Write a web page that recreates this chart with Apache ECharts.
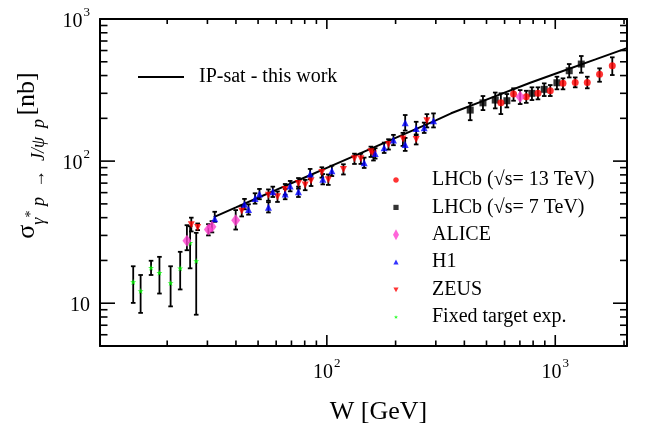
<!DOCTYPE html>
<html><head><meta charset="utf-8">
<script src="https://cdn.jsdelivr.net/npm/echarts@6/dist/echarts.min.js"></script>
<style>html,body{margin:0;padding:0;background:#fff}#c{width:648px;height:430px}</style>
</head><body><div id="c"></div>
<script>
const FONT = '"Liberation Serif", "Times New Roman", "DejaVu Serif", serif';
const X_MIN = 10.16, X_MAX = 2061, Y_MIN = 5, Y_MAX = 1000;

// ---- axis ticks & labels ----
const xMajorTicks = [100, 1000];
const xMinorTicks = [20, 30, 40, 50, 60, 70, 80, 90, 200, 300, 400, 500, 600, 700, 800, 900, 2000];
const yMajorTicks = [10, 100, 1000];
const yMinorTicks = [6, 7, 8, 9, 20, 30, 40, 50, 60, 70, 80, 90, 200, 300, 400, 500, 600, 700, 800, 900];
const xLabelValues = [100, 1000];
const xLabelBase = ['10', '10'];
const xLabelExp = ['2', '3'];
const yLabelValues = [10, 100, 1000];
const yLabelBase = ['10', '10', '10'];
const yLabelExp = ['', '2', '3'];

// ---- IP-sat curve ----
const ipsatW = [32, 40, 50, 60, 80, 100, 150, 200, 300, 350, 500, 777, 1000, 1500, 2100];
const ipsatSigma = [40.4, 47.2, 55.2, 62.7, 76.7, 89.7, 119.1, 145.7, 193.5, 217, 271, 356, 411.6, 519.5, 630.5];

// ---- LHCb sqrt(s)=13 TeV ----
const lhcb13W = [578, 656.7, 746.5, 840, 951, 1081, 1223, 1381, 1563, 1777];
const lhcb13Sigma = [257, 296.5, 283.7, 299.9, 312.6, 352.4, 358, 358, 407.9, 469];
const lhcb13Lo = [214.3, 266, 257, 272, 287, 320, 330.5, 325.3, 361.8, 403.3];
const lhcb13Hi = [299.9, 325.3, 312.6, 330.5, 342.9, 382.3, 388, 392.5, 449.5, 537.5];

// ---- LHCb sqrt(s)=7 TeV ----
const lhcb7W = [424.3, 482.5, 546, 614, 790.6, 894.8, 1017, 1151, 1300];
const lhcb7Sigma = [228.6, 257, 269, 266, 299.9, 320, 355.9, 432.5, 481.9];
const lhcb7Lo = [194, 228.6, 235, 238.8, 269, 287, 320, 388, 418.7];
const lhcb7Hi = [257, 287, 303.7, 296.5, 330.5, 352.4, 392.5, 481.9, 548.9];

// ---- ALICE ----
const aliceW = [24.4, 30.3, 31.4, 39.9, 702];
const aliceSigma = [27.5, 33.0, 34.5, 38.4, 283.7];
const aliceLo = [23.6, 30.0, 31.5, 33.0, 252];
const aliceHi = [35.4, 36.0, 37.8, 45.2, 316];

// ---- H1 ----
const h1W = [32.3, 43.6, 45.4, 48.5, 50.7, 55.5, 58.0, 65.7, 69.1, 75.1, 84.5, 96.0, 105.2, 145.7, 162.8, 178.2, 195.7, 220.3, 220.3, 246.1, 266.8, 293.1];
const h1Sigma = [39.3, 49.8, 45.7, 54.6, 58.6, 47.3, 60.8, 58.6, 66.7, 60.8, 81.0, 74.6, 85.4, 97.3, 113.3, 124.1, 140.7, 186.1, 131.1, 169.9, 171.6, 192.2];
const h1Lo = [37.4, 45.8, 42.0, 50.2, 53.9, 43.5, 55.9, 53.9, 61.3, 55.9, 74.5, 68.6, 78.5, 89.5, 104.2, 114.1, 129.4, 164.0, 118.0, 152.4, 157.8, 172.6];
const h1Hi = [44.0, 54.2, 49.7, 59.4, 63.7, 51.4, 66.1, 63.7, 72.5, 66.1, 88.1, 81.1, 92.8, 105.8, 123.2, 135.0, 153.0, 211.0, 145.6, 189.1, 186.6, 216.6];

// ---- ZEUS ----
const zeusW = [25.5, 27.2, 42.4, 55.5, 60.8, 65.7, 75.1, 80.4, 85.3, 95.1, 101.5, 118.2, 132.1, 140.9, 155.9, 160.0, 186.2, 215.3, 246.1, 274.2];
const zeusSigma = [35.7, 34.1, 44.5, 57.6, 56.1, 63.2, 69.7, 67.8, 72.6, 83.2, 74.0, 87.4, 103.8, 103.8, 116.3, 112.0, 131.1, 142.9, 142.2, 192.2];
const zeusLo = [32.0, 32.7, 40.8, 52.6, 51.6, 58.0, 64.0, 62.4, 66.8, 76.5, 68.0, 80.5, 95.5, 95.5, 107.0, 101.0, 120.6, 128.0, 131.0, 172.6];
const zeusHi = [40.0, 36.4, 48.6, 63.2, 61.2, 69.0, 76.0, 73.8, 79.0, 90.5, 80.5, 95.0, 112.8, 112.8, 126.4, 122.0, 142.5, 158.0, 154.0, 214.0];

// ---- Fixed target experiments ----
const fixedW = [14.2, 15.3, 17.0, 18.5, 20.7, 22.8, 25.2, 26.8];
const fixedSigma = [14.1, 12.2, 17.8, 16.4, 13.9, 17.6, 26.6, 19.8];
const fixedLo = [10.05, 8.55, 15.8, 11.7, 9.5, 12.5, 17.6, 8.3];
const fixedHi = [18.2, 15.8, 19.9, 21.2, 18.2, 23.0, 34.8, 31.3];

// ---------------------------------------------------------------
function pts(w, s) { return w.map((v, i) => [v, s[i]]); }
function errs(w, s, lo, hi) { return w.map((v, i) => [v, s[i], lo[i], hi[i]]); }

function errorBarRender(params, api) {
  const x = api.value(0), lo = api.value(2), hi = api.value(3);
  const pl = api.coord([x, lo]), ph = api.coord([x, hi]);
  const cw = 2.3;
  const st = { stroke: '#000', lineWidth: 1.8 };
  return { type: 'group', children: [
    { type: 'line', shape: { x1: pl[0], y1: pl[1], x2: ph[0], y2: ph[1] }, style: st },
    { type: 'line', shape: { x1: pl[0] - cw, y1: pl[1], x2: pl[0] + cw, y2: pl[1] }, style: st },
    { type: 'line', shape: { x1: ph[0] - cw, y1: ph[1], x2: ph[0] + cw, y2: ph[1] }, style: st }
  ]};
}
function errSeries(data) {
  return { type: 'custom', renderItem: errorBarRender, data: data, encode: { x: 0, y: 1 }, z: 3, silent: true, clip: false };
}
// tick series: dx,dy is direction of the tick into the plot
function tickSeries(data, len, dx, dy) {
  return {
    type: 'custom', silent: true, z: 10, clip: false,
    encode: { x: 0, y: 1 }, data: data,
    renderItem: function (params, api) {
      const p = api.coord([api.value(0), api.value(1)]);
      return { type: 'line', shape: { x1: p[0], y1: p[1], x2: p[0] + dx * len, y2: p[1] + dy * len },
        style: { stroke: '#000', lineWidth: 1.6 } };
    }
  };
}
function powLabel(values, bases, exps) {
  return function (v) {
    for (let i = 0; i < values.length; i++) {
      if (Math.abs(Math.log10(v) - Math.log10(values[i])) < 1e-6) {
        return exps[i] ? '{b|' + bases[i] + '}{s|' + exps[i] + '}' : '{b|' + bases[i] + '}';
      }
    }
    return '';
  };
}
const labelRich = {
  b: { fontFamily: FONT, fontSize: 20, color: '#000', padding: [6, 0, 0, 0] },
  s: { fontFamily: FONT, fontSize: 13, color: '#000', verticalAlign: 'top', padding: [0, 0, 0, 1] }
};

const axisLine = { show: true, onZero: false, lineStyle: { color: '#000', width: 2 } };

const downTri = 'path://M0,0L10,0L5,9Z';
const star = 'path://M5,0L6.2,3.8L10,3.8L7,6.2L8.1,10L5,7.6L1.9,10L3,6.2L0,3.8L3.8,3.8Z';

// legend icons (drawn inside a 12x12 box)
const iconCircle = 'path://M0,0M12,12M6,3.2C7.55,3.2 8.8,4.45 8.8,6C8.8,7.55 7.55,8.8 6,8.8C4.45,8.8 3.2,7.55 3.2,6C3.2,4.45 4.45,3.2 6,3.2Z';
const iconSquare = 'path://M0,0M12,12M3.4,3.4H8.6V8.6H3.4Z';
const iconDiamond = 'path://M0,0M12,12M6,0.5L9,6L6,11.5L3,6Z';
const iconUp = 'path://M0,0M12,12M6,3.4L8.6,8.2L3.4,8.2Z';
const iconDown = 'path://M0,0M12,12M3.4,3.8H8.6L6,8.6Z';
const iconStar = 'path://M0,0M12,12M6,4.2L6.6,5.5L8,5.5L6.9,6.4L7.3,7.8L6,7L4.7,7.8L5.1,6.4L4,5.5L5.4,5.5Z';

const names = ['LHCb (\u221As= 13 TeV)', 'LHCb (\u221As= 7 TeV)', 'ALICE', 'H1', 'ZEUS', 'Fixed target exp.'];
const icons = [iconCircle, iconSquare, iconDiamond, iconUp, iconDown, iconStar];

const option = {
  animation: false,
  backgroundColor: '#fff',
  grid: { left: 100, right: 21, top: 19, bottom: 83, containLabel: false },
  xAxis: [
    { type: 'log', logBase: 10, min: X_MIN, max: X_MAX, position: 'bottom',
      axisLine: axisLine, axisTick: { show: false }, splitLine: { show: false }, minorTick: { show: false },
      axisLabel: { margin: 11, formatter: powLabel(xLabelValues, xLabelBase, xLabelExp), rich: labelRich, showMinLabel: true, showMaxLabel: true, hideOverlap: false },
      name: 'W [GeV]', nameLocation: 'middle', nameGap: 53,
      nameTextStyle: { fontFamily: FONT, fontSize: 26, color: '#000', padding: [0, 0, 0, 30] } },
    { type: 'log', logBase: 10, min: X_MIN, max: X_MAX, position: 'top',
      axisLine: axisLine, axisTick: { show: false }, axisLabel: { show: false }, splitLine: { show: false } }
  ],
  yAxis: [
    { type: 'log', logBase: 10, min: Y_MIN, max: Y_MAX, position: 'left',
      axisLine: axisLine, axisTick: { show: false }, splitLine: { show: false }, minorTick: { show: false },
      axisLabel: { margin: 10, formatter: powLabel(yLabelValues, yLabelBase, yLabelExp), rich: labelRich, showMinLabel: true, showMaxLabel: true, hideOverlap: false },
      name: '{m|\u03C3}{i|\u03B3}{u|*}{i| p  \u2192  J/\u03C8  p} {m|[nb]}',
      nameLocation: 'middle', nameRotate: 90, nameGap: 52,
      nameTextStyle: { color: '#000', padding: [0, 0, 0, 54],
        rich: {
          m: { fontFamily: FONT, fontSize: 26, color: '#000', padding: [0, 0, 8, 0] },
          i: { fontFamily: FONT, fontSize: 18, fontStyle: 'italic', color: '#000', verticalAlign: 'bottom' },
          u: { fontFamily: FONT, fontSize: 14, color: '#000', verticalAlign: 'middle' }
        } } },
    { type: 'log', logBase: 10, min: Y_MIN, max: Y_MAX, position: 'right',
      axisLine: axisLine, axisTick: { show: false }, axisLabel: { show: false }, splitLine: { show: false } }
  ],
  legend: [
    { data: names.map((n, i) => ({ name: n, icon: icons[i] })), orient: 'vertical', left: 385, top: 165,
      itemWidth: 62, itemHeight: 12, itemGap: 7.4,
      selectedMode: false, textStyle: { fontFamily: FONT, fontSize: 20, color: '#000', lineHeight: 20 } },
    { data: [{ name: 'IP-sat - this work', icon: 'path://M0,0H46V2H0Z' }], left: 133, top: 62,
      itemWidth: 46, itemHeight: 20, selectedMode: false,
      textStyle: { fontFamily: FONT, fontSize: 20, color: '#000', lineHeight: 20, padding: [0, 0, 0, 10] } }
  ],
  series: [
    // ticks
    tickSeries(xMajorTicks.map(v => [v, Y_MIN]), 11, 0, -1),
    tickSeries(xMinorTicks.map(v => [v, Y_MIN]), 5.5, 0, -1),
    tickSeries(xMajorTicks.map(v => [v, Y_MAX]), 10, 0, 1),
    tickSeries(xMinorTicks.map(v => [v, Y_MAX]), 5, 0, 1),
    tickSeries(yMajorTicks.map(v => [X_MIN, v]), 15, 1, 0),
    tickSeries(yMinorTicks.map(v => [X_MIN, v]), 7.5, 1, 0),
    tickSeries(yMajorTicks.map(v => [X_MAX, v]), 14, -1, 0),
    tickSeries(yMinorTicks.map(v => [X_MAX, v]), 7, -1, 0),
    // curve
    { type: 'line', name: 'IP-sat - this work', data: pts(ipsatW, ipsatSigma), symbol: 'none',
      lineStyle: { color: '#000', width: 2 }, itemStyle: { color: '#000' }, z: 2, silent: true },
    // error bars
    errSeries(errs(fixedW, fixedSigma, fixedLo, fixedHi)),
    errSeries(errs(zeusW, zeusSigma, zeusLo, zeusHi)),
    errSeries(errs(h1W, h1Sigma, h1Lo, h1Hi)),
    errSeries(errs(aliceW, aliceSigma, aliceLo, aliceHi)),
    errSeries(errs(lhcb7W, lhcb7Sigma, lhcb7Lo, lhcb7Hi)),
    errSeries(errs(lhcb13W, lhcb13Sigma, lhcb13Lo, lhcb13Hi)),
    // markers
    { type: 'scatter', name: names[5], data: pts(fixedW, fixedSigma), symbol: star, symbolSize: 6,
      itemStyle: { color: '#00ff00' }, z: 4, silent: true },
    { type: 'scatter', name: names[4], data: pts(zeusW, zeusSigma), symbol: downTri, symbolSize: 7,
      itemStyle: { color: '#ff0000' }, z: 4, silent: true },
    { type: 'scatter', name: names[3], data: pts(h1W, h1Sigma), symbol: 'triangle', symbolSize: 7,
      itemStyle: { color: '#0000ff' }, z: 4, silent: true },
    { type: 'scatter', name: names[2], data: pts(aliceW, aliceSigma), symbol: 'diamond', symbolSize: [9, 12],
      itemStyle: { color: '#ff3fd0' }, z: 5, silent: true },
    { type: 'scatter', name: names[1], data: pts(lhcb7W, lhcb7Sigma), symbol: 'rect', symbolSize: 7,
      itemStyle: { color: '#000000' }, z: 4, silent: true },
    { type: 'scatter', name: names[0], data: pts(lhcb13W, lhcb13Sigma), symbol: 'circle', symbolSize: 7,
      itemStyle: { color: '#ff0000' }, z: 4, silent: true }
  ]
};
const chart = echarts.init(document.getElementById('c'), null, { renderer: 'canvas' });
chart.setOption(option);
</script>
</body></html>
